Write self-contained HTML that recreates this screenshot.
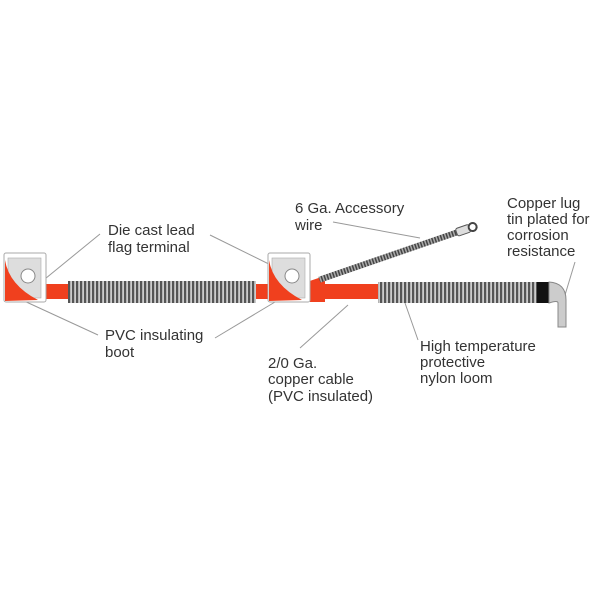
<!DOCTYPE html>
<html><head><style>body{margin:0;background:#fff}svg{display:block}text{font-family:"Liberation Sans",sans-serif;font-size:15px;fill:#333}</style></head><body>
<svg width="600" height="600" viewBox="0 0 600 600">
<defs>
<pattern id="loom" width="4" height="30" patternUnits="userSpaceOnUse"><rect width="4" height="30" fill="#ccc"/><rect width="2.2" height="30" fill="#555"/></pattern>
<pattern id="wire" width="3" height="3" patternUnits="userSpaceOnUse"><rect width="3" height="3" fill="#aaa"/><rect width="1.5" height="3" fill="#444"/></pattern>
</defs>
<g stroke="#999" stroke-width="1" fill="none">
<line x1="100" y1="234" x2="40" y2="283"/><line x1="210" y1="235" x2="285" y2="272"/>
<line x1="98" y1="335" x2="22" y2="300"/><line x1="215" y1="338" x2="275" y2="302"/>
<line x1="333" y1="222" x2="420" y2="238"/><line x1="575" y1="262" x2="565" y2="295"/>
<line x1="300" y1="348" x2="348" y2="305"/><line x1="418" y1="340" x2="405" y2="303"/>
</g>
<!-- cables -->
<rect x="40" y="284" width="235" height="15" fill="#f0401e"/>
<rect x="305" y="284" width="78" height="15" fill="#f0401e"/>
<rect x="310" y="281" width="15" height="21" fill="#f0401e"/>
<rect x="68" y="281" width="188" height="22" fill="url(#loom)"/>
<rect x="378" y="282" width="160" height="21" fill="url(#loom)"/>
<rect x="537" y="282" width="12" height="21" fill="#111"/>
<path d="M549 282 Q566 283 566 300 L566 327 L558 327 L558 303 Q558 300 549 303 Z" fill="#ccc" stroke="#888" stroke-width="1"/>
<!-- accessory wire -->
<g transform="translate(310,283) rotate(-19)">
<rect x="0" y="-2" width="12" height="4" fill="#f0401e"/>
<rect x="10" y="-3" width="148" height="6" fill="url(#wire)"/>
<rect x="155" y="-4" width="14" height="8" rx="2" fill="#ddd" stroke="#555"/>
<circle cx="172" cy="0" r="4" fill="#fff" stroke="#444" stroke-width="2"/>
</g>
<!-- terminals -->
<g id="t">
<rect x="4" y="253" width="42" height="49" rx="2" fill="#fff" stroke="#aaa"/>
<rect x="8" y="258" width="33" height="40" fill="#ddd" stroke="#aaa" stroke-width="0.6"/>
<circle cx="28" cy="276" r="7" fill="#fff" stroke="#888"/>
<path d="M5 260 Q9 285 38 300 L5 301 Z" fill="#f0401e"/>
</g>
<use href="#t" x="264"/>
<text x="108" y="235">Die cast lead</text><text x="108" y="252">flag terminal</text>
<text x="105" y="340">PVC insulating</text><text x="105" y="357">boot</text>
<text x="295" y="213">6 Ga. Accessory</text><text x="295" y="230">wire</text>
<text x="507" y="208">Copper lug</text><text x="507" y="224">tin plated for</text><text x="507" y="240">corrosion</text><text x="507" y="256">resistance</text>
<text x="268" y="368">2/0 Ga.</text><text x="268" y="384">copper cable</text><text x="268" y="401">(PVC insulated)</text>
<text x="420" y="351">High temperature</text><text x="420" y="367">protective</text><text x="420" y="383">nylon loom</text>
</svg>
</body></html>
